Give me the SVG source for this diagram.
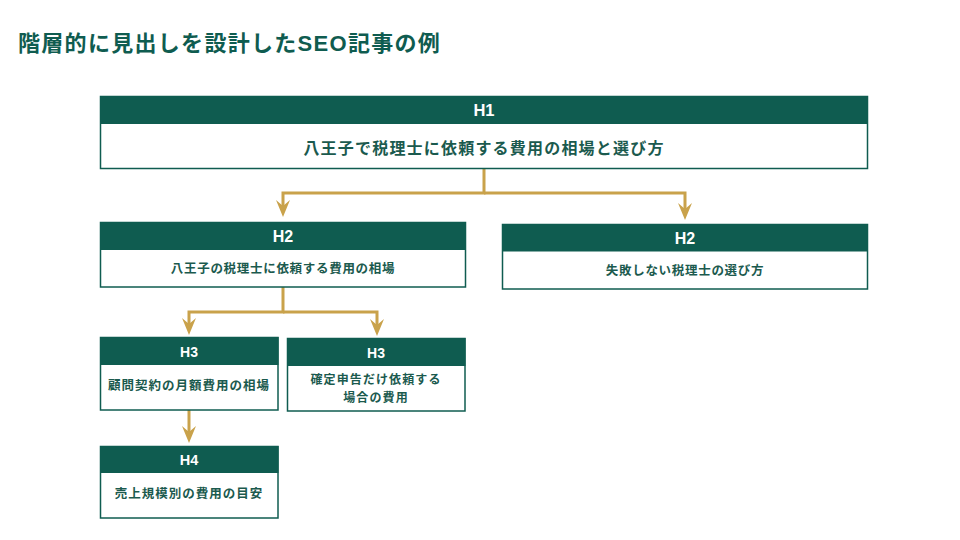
<svg xmlns="http://www.w3.org/2000/svg" width="960" height="540" viewBox="0 0 960 540">
<defs>
<style>
.hd{fill:#0f5c50}
.bd{fill:#ffffff;stroke:#0f5c50;stroke-width:1.5}
.ht{fill:#ffffff;font-family:"Liberation Sans",Roboto,Arial,sans-serif;font-weight:bold;text-anchor:middle}
.bt{fill:#1b5a4e;font-family:"Noto Sans CJK JP","Noto Sans CJK SC",sans-serif;font-weight:bold;text-anchor:middle}
.title{fill:#0f5c50;font-family:"Liberation Sans","Noto Sans CJK JP",sans-serif;font-weight:bold;font-size:22px}
.cn{fill:none;stroke:#c9a24b;stroke-width:3}
</style>
<marker id="ah" markerUnits="userSpaceOnUse" markerWidth="18" markerHeight="16" viewBox="0 0 18 16" refX="6" refY="8" orient="auto">
<path d="M0,1 L17,8 L0,15 L6,8 Z" fill="#c9a24b"/>
</marker>
</defs>
<rect width="960" height="540" fill="#ffffff"/>
<text class="title" x="18" y="51" letter-spacing="1.3">階層的に見出しを設計したSEO記事の例</text>

<g id="connectors">
<path class="cn" d="M484,169 V193 H283 V206" marker-end="url(#ah)"/>
<path class="cn" d="M484,193 H685 V209" marker-end="url(#ah)"/>
<path class="cn" d="M283,287 V312 H189 V324" marker-end="url(#ah)"/>
<path class="cn" d="M283,312 H377 V325" marker-end="url(#ah)"/>
<path class="cn" d="M189,410 V432" marker-end="url(#ah)"/>
</g>

<g id="h1">
<rect class="bd" x="100.5" y="96.5" width="767" height="72"/>
<rect class="hd" x="100" y="96" width="768" height="28"/>
<text class="ht" x="484" y="116" font-size="16.5">H1</text>
<text class="bt" x="484" y="153.5" font-size="16" letter-spacing="1.2">八王子で税理士に依頼する費用の相場と選び方</text>
</g>

<g id="h2a">
<rect class="bd" x="100.5" y="222.5" width="365" height="64.5"/>
<rect class="hd" x="100" y="222" width="366" height="28"/>
<text class="ht" x="283" y="242" font-size="16">H2</text>
<text class="bt" x="283" y="273" font-size="12.5" letter-spacing="0.7">八王子の税理士に依頼する費用の相場</text>
</g>

<g id="h2b">
<rect class="bd" x="502.5" y="224.5" width="365" height="64.5"/>
<rect class="hd" x="502" y="224" width="366" height="27.5"/>
<text class="ht" x="685" y="243.5" font-size="16">H2</text>
<text class="bt" x="685" y="274.5" font-size="12.5" letter-spacing="0.7">失敗しない税理士の選び方</text>
</g>

<g id="h3a">
<rect class="bd" x="100.5" y="337.5" width="177.5" height="72.5"/>
<rect class="hd" x="100" y="337" width="178.5" height="28"/>
<text class="ht" x="189" y="357" font-size="14">H3</text>
<text class="bt" x="189" y="390" font-size="12.5" letter-spacing="1">顧問契約の月額費用の相場</text>
</g>

<g id="h3b">
<rect class="bd" x="287.5" y="338.5" width="177.5" height="72.5"/>
<rect class="hd" x="287" y="338" width="178.5" height="28"/>
<text class="ht" x="376" y="358" font-size="14">H3</text>
<text class="bt" x="376" y="384" font-size="12" letter-spacing="1.1">確定申告だけ依頼する</text>
<text class="bt" x="376" y="401.5" font-size="12" letter-spacing="1.1">場合の費用</text>
</g>

<g id="h4">
<rect class="bd" x="100.5" y="446.5" width="177.5" height="71.5"/>
<rect class="hd" x="100" y="446" width="178.5" height="27"/>
<text class="ht" x="189" y="464.5" font-size="14.5">H4</text>
<text class="bt" x="189" y="498" font-size="12.5" letter-spacing="1">売上規模別の費用の目安</text>
</g>
</svg>
